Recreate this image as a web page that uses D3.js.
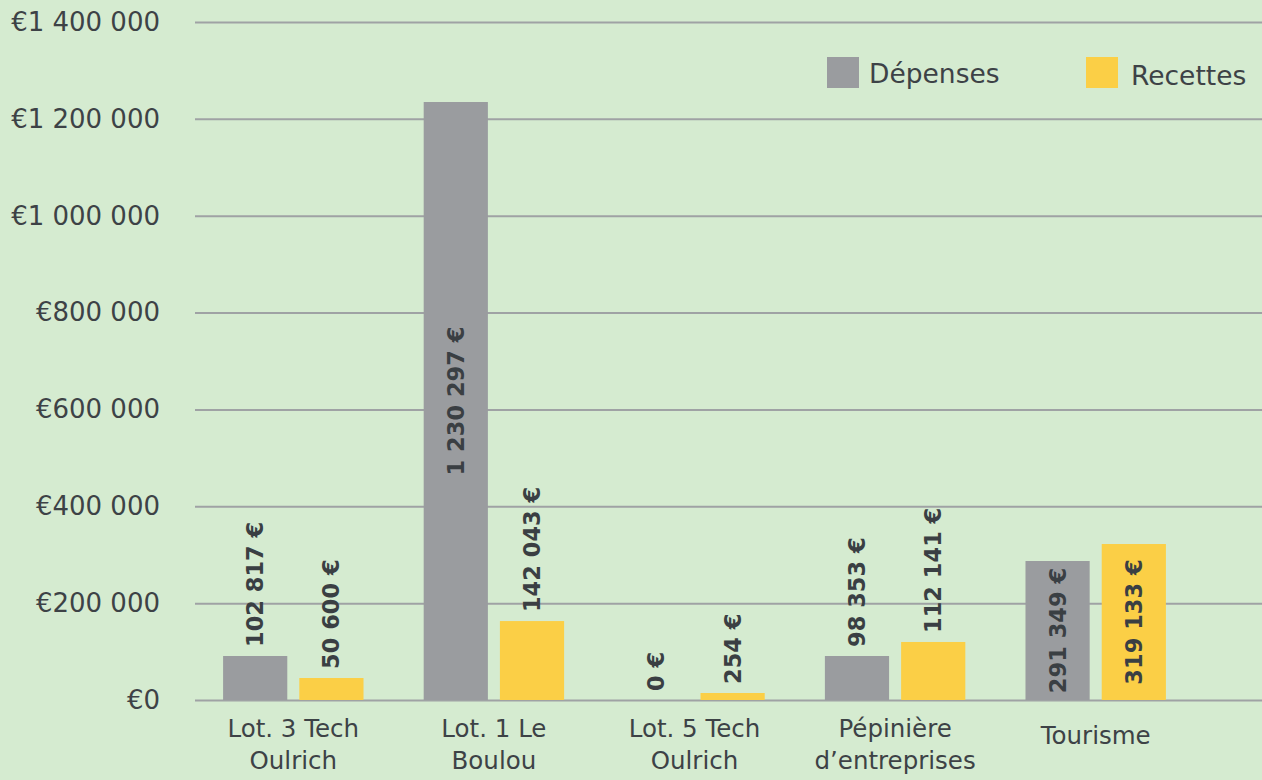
<!DOCTYPE html>
<html><head><meta charset="utf-8">
<script src="https://cdn.jsdelivr.net/npm/d3@7"></script>
<style>
html,body{margin:0;padding:0;background:#d5ebd0;}
svg{display:block;font-family:"DejaVu Sans",sans-serif;}
</style></head>
<body>
<svg id="chart" width="1262" height="780"></svg>
<script>
const categories = [["Lot. 3 Tech","Oulrich"],["Lot. 1 Le","Boulou"],["Lot. 5 Tech","Oulrich"],["Pépinière","d’entreprises"],["Tourisme"]];
const series = ["Dépenses","Recettes"];
const depenses = [90850, 1234800, 0, 90850, 287000];
const recettes = [45400, 163000, 14450, 119800, 322100];
const depensesLabels = ["102 817 €","1 230 297 €","0 €","98 353 €","291 349 €"];
const recettesLabels = ["50 600 €","142 043 €","254 €","112 141 €","319 133 €"];
const yTicks = [0,200000,400000,600000,800000,1000000,1200000,1400000];
const colors = ["#9a9c9f","#fbcf46"];

const FONT = "DejaVu Sans, sans-serif";
const svg = d3.select("#chart");
const W = 1262, H = 780;
const margin = {left:195, right:0, top:22, bottom:80};
const catKeys = categories.map(c => c.join(" "));

const y = d3.scaleLinear().domain([0,1400000]).range([700,22]);
const x0 = d3.scaleBand().domain(catKeys).range([193,1196]).paddingInner(0.3).paddingOuter(0.15);
const x1 = d3.scaleBand().domain(series).range([0,x0.bandwidth()]).paddingInner(0.158);

const loc = d3.formatLocale({decimal:",",thousands:" ",grouping:[3],currency:["€",""]});
const fmt = loc.format("$,");

const yAxis = d3.axisLeft(y).tickValues(yTicks).tickFormat(fmt)
  .tickSize(-(W - margin.left)).tickPadding(35);
const gy = svg.append("g").attr("transform",`translate(${margin.left},0)`).call(yAxis);
gy.select(".domain").remove();
gy.selectAll(".tick line").attr("stroke","#9fa2a4").attr("stroke-width",2);
gy.selectAll(".tick text").attr("fill","#3d4246").attr("font-size",26).attr("font-family",FONT);

const rows = catKeys.map((k,i)=>({key:k, lines:categories[i], vals:[
  {s:series[0], v:depenses[i], label:depensesLabels[i], c:colors[0]},
  {s:series[1], v:recettes[i], label:recettesLabels[i], c:colors[1]}]}));

const groups = svg.append("g").selectAll("g").data(rows).join("g")
  .attr("transform", d=>`translate(${x0(d.key)},0)`);

groups.selectAll("rect").data(d=>d.vals).join("rect")
  .attr("x", d=>x1(d.s)).attr("width", x1.bandwidth())
  .attr("y", d=>y(d.v)).attr("height", d=>y(0)-y(d.v))
  .attr("fill", d=>d.c);

// value labels
groups.selectAll("text.val").data(d=>d.vals).join("text")
  .attr("class","val")
  .attr("font-size",22.5).attr("font-weight","bold").attr("fill","#3a3f43")
  .attr("font-family",FONT)
  .text(d=>d.label)
  .each(function(d){
    const t = d3.select(this);
    const len = this.getComputedTextLength();
    const h = y(0)-y(d.v);
    const cx = x1(d.s) + x1.bandwidth()/2;
    let anchor, py;
    if (h > len + 10) { anchor = "middle"; py = y(d.v) + h/2; }
    else { anchor = "start"; py = y(d.v) - 9; }
    t.attr("text-anchor",anchor).attr("dominant-baseline","central")
     .attr("transform",`translate(${cx},${py}) rotate(-90)`);
  });

// category labels
const xl = svg.append("g").selectAll("text").data(rows).join("text")
  .attr("x", d=>x0(d.key)+x0.bandwidth()/2)
  .attr("text-anchor","middle").attr("fill","#3d4246").attr("font-size",24.5)
  .attr("font-family",FONT);
xl.selectAll("tspan").data(d=>d.lines.map(l=>({l, n:d.lines.length}))).join("tspan")
  .attr("x", function(){return d3.select(this.parentNode).attr("x");})
  .attr("y", (d,i)=> (d.n===1 ? 744 : 737) + i*32)
  .text(d=>d.l);

// legend
const leg = svg.append("g");
const legX = [827, 1086];
series.forEach((s,i)=>{
  leg.append("rect").attr("x",legX[i]).attr("y",57).attr("width",32).attr("height",31).attr("fill",colors[i]);
  leg.append("text").attr("x",legX[i]+42+(i?3:0)).attr("y",73+(i?2:0)).attr("dominant-baseline","central")
    .attr("font-size",26.5).attr("fill","#3d4246").attr("font-family",FONT).text(s);
});
</script>
</body></html>
